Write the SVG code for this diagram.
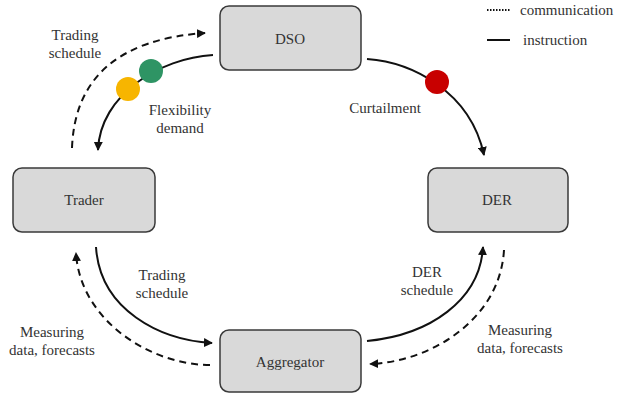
<svg xmlns="http://www.w3.org/2000/svg" width="617" height="394" viewBox="0 0 617 394">
<style>
.node{fill:#d9d9d9;stroke:#3a3a3a;stroke-width:1.5}
.t{font-family:"Liberation Serif",serif;font-size:15px;fill:#333;text-anchor:middle}
.lg{font-family:"Liberation Serif",serif;font-size:15px;fill:#333}
.solid{fill:none;stroke:#111;stroke-width:2}
.dash{fill:none;stroke:#111;stroke-width:2;stroke-dasharray:7,5}
</style>
<defs>
<marker id="ah" viewBox="0 0 10 10" refX="9" refY="5" markerWidth="4.5" markerHeight="4.5" orient="auto" markerUnits="strokeWidth">
<path d="M0,0 L10,5 L0,10 z" fill="#111"/>
</marker>
</defs>
<rect width="617" height="394" fill="#fff"/>
<g id="DSO"><rect class="node" x="220" y="6" width="141" height="64" rx="9"/><text class="t" x="290" y="44">DSO</text></g>
<g id="Trader"><rect class="node" x="13" y="168" width="142" height="64" rx="9"/><text class="t" x="84" y="205">Trader</text></g>
<g id="DER"><rect class="node" x="428" y="168" width="140" height="64" rx="9"/><text class="t" x="497" y="205">DER</text></g>
<g id="Aggregator"><rect class="node" x="220" y="330" width="141" height="62" rx="9"/><text class="t" x="290" y="367">Aggregator</text></g>
<g id="connectors">
<path class="dash" d="M72,148 Q76,42 205,33" marker-end="url(#ah)"/>
<path class="solid" d="M213,55 C160,58 100,95 98,150" marker-end="url(#ah)"/>
<path class="solid" d="M367,59 C410,62 470,90 484,155" marker-end="url(#ah)"/>
<path class="solid" d="M96,247 C100,310 160,340 212,343" marker-end="url(#ah)"/>
<path class="dash" d="M210,365 C150,365 80,320 76,253" marker-end="url(#ah)"/>
<path class="solid" d="M367,341 C430,335 480,300 483,247" marker-end="url(#ah)"/>
<path class="dash" d="M504,250 C500,320 430,362 370,364" marker-end="url(#ah)"/>
<circle cx="151" cy="71" r="12" fill="#2e9464"/>
<circle cx="128" cy="89" r="12" fill="#f7b500"/>
<circle cx="437" cy="82" r="12" fill="#c80000"/>
</g>
<g id="labels">
<text class="t" x="75" y="40">Trading</text><text class="t" x="75" y="58">schedule</text>
<text class="t" x="180" y="115">Flexibility</text><text class="t" x="180" y="133">demand</text>
<text class="t" x="385" y="113">Curtailment</text>
<text class="t" x="162" y="280">Trading</text><text class="t" x="162" y="298">schedule</text>
<text class="t" x="52" y="337">Measuring</text><text class="t" x="52" y="355">data, forecasts</text>
<text class="t" x="427" y="277">DER</text><text class="t" x="427" y="295">schedule</text>
<text class="t" x="520" y="335">Measuring</text><text class="t" x="520" y="353">data, forecasts</text>
</g>
<g id="legend">
<line x1="487" y1="10" x2="510" y2="10" stroke="#111" stroke-width="2" stroke-dasharray="1.5,1.5"/>
<text class="lg" x="520" y="15">communication</text>
<line x1="487" y1="40" x2="510" y2="40" stroke="#111" stroke-width="2"/>
<text class="lg" x="523" y="45">instruction</text>
</g>
</svg>
